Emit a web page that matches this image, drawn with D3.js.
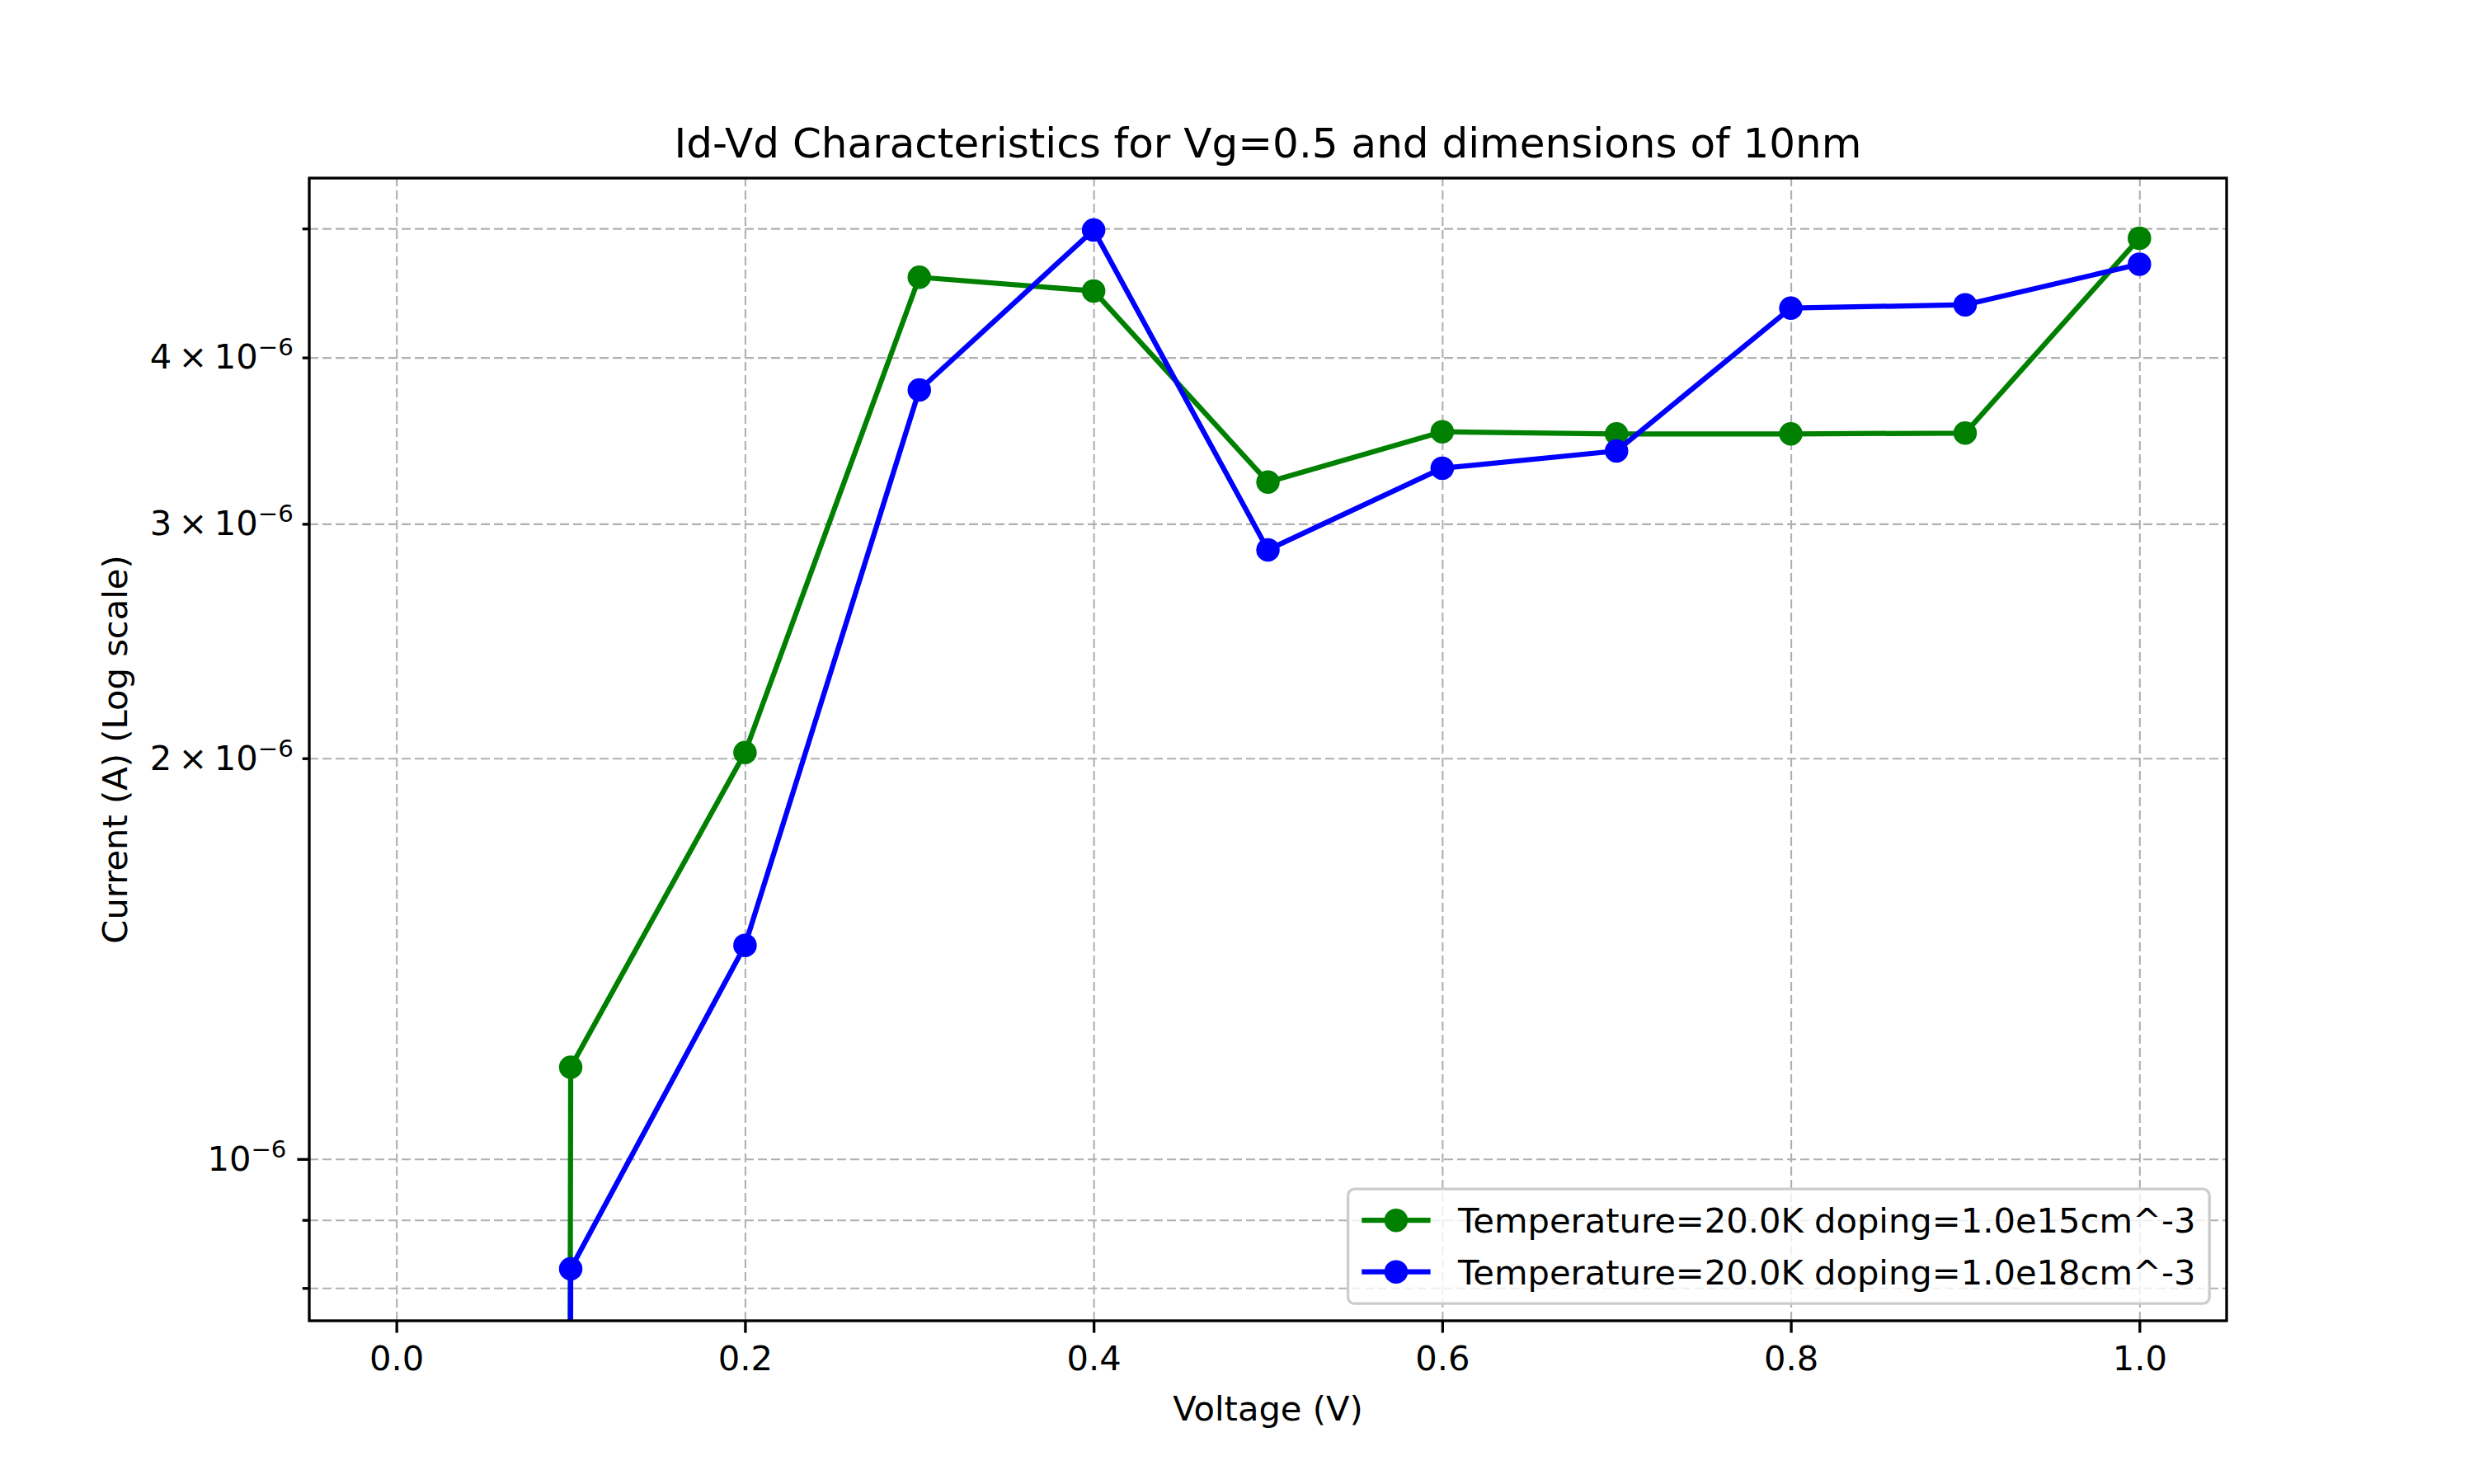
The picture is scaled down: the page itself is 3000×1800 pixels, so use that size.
<!DOCTYPE html>
<html>
<head>
<meta charset="utf-8">
<script src="https://cdn.jsdelivr.net/npm/d3@7"></script>
<style>
  body { margin: 0; background: #fff; }
  text { font-family: "DejaVu Sans", sans-serif; fill: #000; }
</style>
</head>
<body>
<div id="chart"></div>
<script>
// data
const voltage = [0.0, 0.1, 0.2, 0.3, 0.4, 0.5, 0.6, 0.7, 0.8, 0.9, 1.0];
const current15 = [0, 1.172e-6, 2.02e-6, 4.596e-6, 4.488e-6, 3.225e-6, 3.518e-6, 3.505e-6, 3.505e-6, 3.51e-6, 4.917e-6];
const current18 = [0, 8.27e-7, 1.447e-6, 3.782e-6, 4.987e-6, 2.868e-6, 3.303e-6, 3.403e-6, 4.357e-6, 4.382e-6, 4.701e-6];
const seriesNames = ['Temperature=20.0K doping=1.0e15cm^-3', 'Temperature=20.0K doping=1.0e18cm^-3'];
const seriesColors = ['#008000', '#0000ff'];
const xTicks = [0.0, 0.2, 0.4, 0.6, 0.8, 1.0];
const yMajorTicks = [1e-6];
const yMinorTicks = [8e-7, 9e-7, 2e-6, 3e-6, 4e-6, 5e-6];
const yTickLabels = { '1e-6': ['', '10', '\u22126'], '2e-6': ['2\u2009\u00d7\u200910', '', '\u22126'], '3e-6': ['3\u2009\u00d7\u200910', '', '\u22126'], '4e-6': ['4\u2009\u00d7\u200910', '', '\u22126'] };

const W = 3000, H = 1800;
const pL = 375, pR = 2700, pT = 216, pB = 1602;
const fs = 41.67;
const lw = 3.33;

const svg = d3.select('#chart').append('svg').attr('width', W).attr('height', H);
svg.append('rect').attr('width', W).attr('height', H).attr('fill', '#fff');

// scales with matplotlib-like 5% margins
const xExt = d3.extent(voltage);
const xPad = (xExt[1] - xExt[0]) * 0.05;
const xScale = d3.scaleLinear().domain([xExt[0] - xPad, xExt[1] + xPad]).range([pL, pR]);

const positives = current15.concat(current18).filter(v => v > 0);
const lo = d3.min(positives), hi = d3.max(positives);
const m = Math.pow(10, Math.log10(hi / lo) * 0.05);
const yScale = d3.scaleLog().domain([lo / m, hi * m]).range([pB, pT]);

// grid
const gridStyle = g => g.selectAll('line').attr('stroke', '#b0b0b0').attr('stroke-width', 2.1).attr('stroke-dasharray', '11,5');
svg.append('g').attr('transform', `translate(0,${pB})`)
  .call(d3.axisBottom(xScale).tickValues(xTicks).tickSize(-(pB - pT)).tickFormat(''))
  .call(g => g.select('.domain').remove()).call(gridStyle);
svg.append('g').attr('transform', `translate(${pL},0)`)
  .call(d3.axisLeft(yScale).tickValues(yMajorTicks.concat(yMinorTicks)).tickSize(-(pR - pL)).tickFormat(''))
  .call(g => g.select('.domain').remove()).call(gridStyle);

// lines
svg.append('clipPath').attr('id', 'plotclip').append('rect')
  .attr('x', pL).attr('y', pT).attr('width', pR - pL).attr('height', pB - pT);

const yPos = v => v > 0 ? yScale(v) : pB + 100000;
const line = d3.line().x(d => xScale(d[0])).y(d => yPos(d[1]));
const plot = svg.append('g').attr('clip-path', 'url(#plotclip)');

[current15, current18].forEach((vals, i) => {
  const pts = voltage.map((v, j) => [v, vals[j]]);
  plot.append('path').datum(pts).attr('d', line)
    .attr('fill', 'none').attr('stroke', seriesColors[i]).attr('stroke-width', 6.25)
    .attr('stroke-linejoin', 'round').attr('stroke-linecap', 'square');
  plot.selectAll('.m' + i).data(pts.filter(d => d[1] > 0)).enter().append('circle')
    .attr('cx', d => xScale(d[0])).attr('cy', d => yScale(d[1])).attr('r', 12.5)
    .attr('fill', seriesColors[i]).attr('stroke', seriesColors[i]).attr('stroke-width', 3.5);
});

// axes frame
svg.append('rect').attr('x', pL).attr('y', pT).attr('width', pR - pL).attr('height', pB - pT)
  .attr('fill', 'none').attr('stroke', '#000').attr('stroke-width', lw);

// x axis
const xAxis = svg.append('g').attr('transform', `translate(0,${pB})`)
  .call(d3.axisBottom(xScale).tickValues(xTicks).tickSize(14.6).tickPadding(16).tickFormat(d3.format('.1f')));
xAxis.select('.domain').remove();
xAxis.selectAll('line').attr('stroke', '#000').attr('stroke-width', lw);
xAxis.selectAll('text').attr('font-size', fs).attr('font-family', 'DejaVu Sans');

// y axis: major and minor ticks
function yTicks(values, size, pad) {
  const g = svg.append('g').attr('transform', `translate(${pL},0)`)
    .call(d3.axisLeft(yScale).tickValues(values).tickSize(size).tickPadding(pad).tickFormat(''));
  g.select('.domain').remove();
  g.selectAll('line').attr('stroke', '#000').attr('stroke-width', lw);
  g.selectAll('.tick text').each(function (d) {
    const key = d3.format('.0e')(d).replace('+', '');
    const lab = yTickLabels[key];
    if (!lab) return;
    const t = d3.select(this).attr('font-size', fs).attr('font-family', 'DejaVu Sans');
    t.append('tspan').text(lab[0] + lab[1]);
    t.append('tspan').attr('font-size', fs * 0.7).attr('dy', -16).text(lab[2]);
  });
  return g;
}
yTicks(yMajorTicks, 14.6, 13);
yTicks(yMinorTicks, 8.3, 11);

// labels
svg.append('text').attr('x', (pL + pR) / 2).attr('y', 191).attr('text-anchor', 'middle')
  .attr('font-size', 50).text('Id-Vd Characteristics for Vg=0.5 and dimensions of 10nm');
svg.append('text').attr('x', (pL + pR) / 2).attr('y', 1723).attr('text-anchor', 'middle')
  .attr('font-size', fs).text('Voltage (V)');
svg.append('text').attr('transform', `translate(154,${(pT + pB) / 2}) rotate(-90)`).attr('text-anchor', 'middle')
  .attr('font-size', fs).text('Current (A) (Log scale)');

// legend
const legend = svg.append('g');
const box = legend.append('rect').attr('fill', '#fff').attr('fill-opacity', 0.8)
  .attr('stroke', '#cccccc').attr('stroke-width', lw).attr('rx', 8);
const texts = seriesNames.map((name, i) => legend.append('text').attr('font-size', fs).text(name));
const textW = d3.max(texts, t => t.node().getComputedTextLength());
const pad = 0.4 * fs, handleLen = 2 * fs, handlePad = 0.8 * fs, rowH = fs + 0.5 * fs;
const boxW = pad + handleLen + handlePad + textW + pad;
const boxH = 139;
const bx = pR - 0.5 * fs - boxW, by = pB - 0.5 * fs - boxH;
box.attr('x', bx).attr('y', by).attr('width', boxW).attr('height', boxH);
seriesNames.forEach((name, i) => {
  const cy = by + 38 + i * rowH;
  const hx = bx + pad;
  legend.append('line').attr('x1', hx).attr('x2', hx + handleLen).attr('y1', cy).attr('y2', cy)
    .attr('stroke', seriesColors[i]).attr('stroke-width', 6.25);
  legend.append('circle').attr('cx', hx + handleLen / 2).attr('cy', cy).attr('r', 12.5)
    .attr('fill', seriesColors[i]).attr('stroke', seriesColors[i]).attr('stroke-width', 3.5);
  texts[i].attr('x', hx + handleLen + handlePad).attr('y', cy).attr('dy', '0.36em');
});
</script>
</body>
</html>
